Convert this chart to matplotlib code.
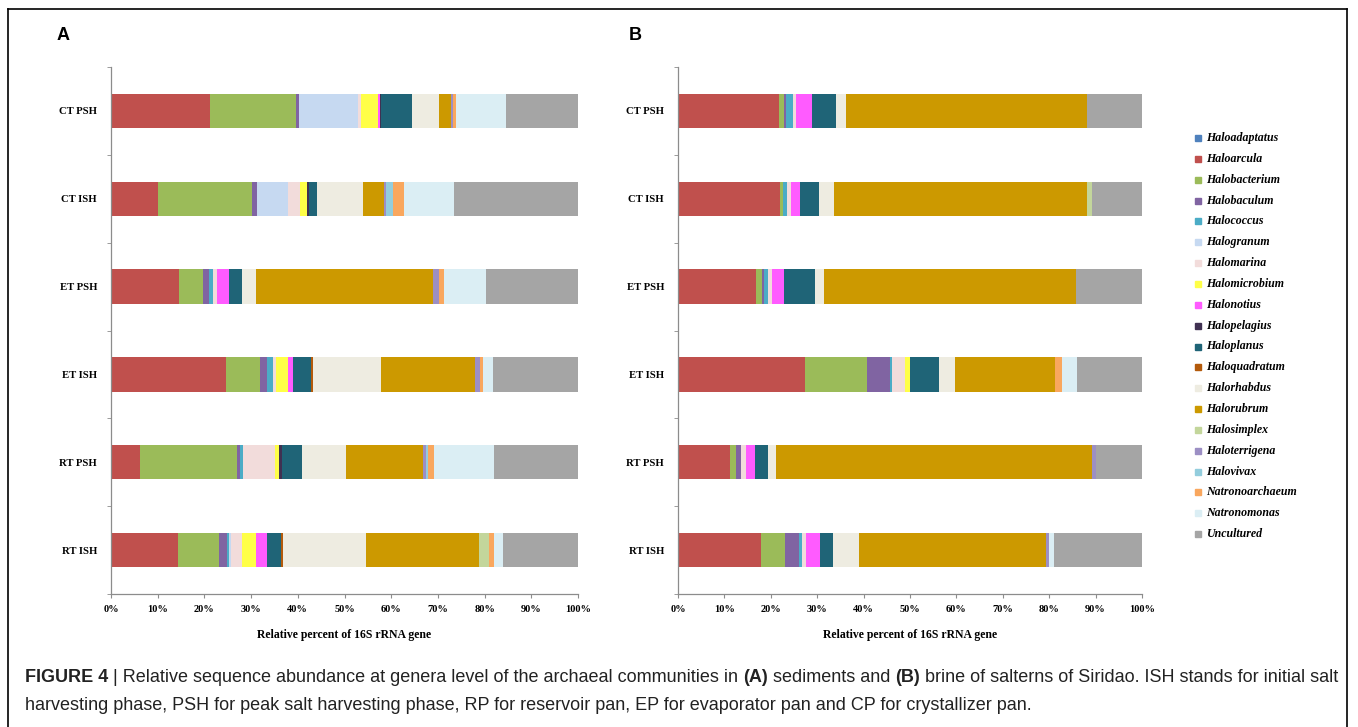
import matplotlib
matplotlib.use("Agg")
import matplotlib.pyplot as plt
from matplotlib.patches import Rectangle
from matplotlib.lines import Line2D

samples = ["CT PSH", "CT ISH", "ET PSH", "ET ISH", "RT PSH", "RT ISH"]

genera = ["Haloadaptatus", "Haloarcula", "Halobacterium", "Halobaculum", "Halococcus",
          "Halogranum", "Halomarina", "Halomicrobium", "Halonotius", "Halopelagius",
          "Haloplanus", "Haloquadratum", "Halorhabdus", "Halorubrum", "Halosimplex",
          "Haloterrigena", "Halovivax", "Natronoarchaeum", "Natronomonas", "Uncultured"]

colors = ["#4F81BD", "#C0504D", "#9BBB59", "#8064A2", "#4BACC6",
          "#C6D9F1", "#F2DCDB", "#FFFF47", "#FF5BFF", "#403152",
          "#1F6477", "#B35A0B", "#EEECE1", "#CC9900", "#C3D69B",
          "#9C8FC4", "#93CDDD", "#F9A75E", "#DBEEF4", "#A5A5A5"]

# percent of reads per genus (same order as genera), one row per sample
sediment = [
    [0, 21.2, 18.5, 0.5, 0, 12.7, 0.7, 3.6, 0.3, 0.4, 6.6, 0, 5.8, 2.6, 0, 0.3, 0, 0.6, 10.7, 15.5],
    [0, 10.0, 20.2, 1.1, 0, 6.6, 2.5, 1.6, 0, 0.3, 1.9, 0, 9.8, 4.4, 0, 0.5, 1.5, 2.4, 10.7, 26.5],
    [0, 14.6, 5.2, 1.2, 0.8, 0, 1.0, 0, 2.4, 0, 2.9, 0, 2.9, 38.0, 0, 1.3, 0, 1.0, 8.9, 19.8],
    [0, 24.6, 7.4, 1.3, 1.3, 0, 0.8, 2.4, 1.2, 0, 3.9, 0.3, 14.7, 20.1, 0, 1.0, 0, 0.7, 2.1, 18.2],
    [0, 6.2, 20.7, 0.7, 0.7, 0, 6.8, 0.8, 0, 0.8, 4.2, 0, 9.5, 16.4, 0, 0.6, 0.5, 1.3, 12.8, 18.0],
    [0, 14.4, 8.7, 1.7, 0.5, 0.4, 2.4, 2.9, 2.3, 0, 3.2, 0.4, 17.8, 24.1, 2.2, 0, 0, 1.0, 2.0, 16.0],
]

brine = [
    [0, 21.8, 1.0, 0.5, 1.5, 0, 0.7, 0, 3.4, 0, 5.2, 0, 2.2, 51.9, 0, 0, 0, 0, 0, 11.8],
    [0, 21.9, 0.7, 0, 0.9, 0, 0.8, 0, 2.0, 0, 4.1, 0, 3.3, 54.5, 1.0, 0, 0, 0, 0, 10.8],
    [0, 16.9, 1.2, 0.5, 0.8, 0, 0.8, 0, 2.6, 0, 6.8, 0, 1.8, 54.4, 0, 0, 0, 0, 0, 14.2],
    [0, 27.4, 13.3, 4.9, 0.5, 0, 2.9, 0.9, 0, 0, 6.3, 0, 3.4, 21.7, 0, 0, 0, 1.5, 3.1, 14.1],
    [0, 11.1, 1.5, 1.0, 0, 0, 1.0, 0, 2.1, 0, 2.7, 0, 1.8, 68.0, 0, 0.9, 0, 0, 0, 9.9],
    [0, 17.8, 5.2, 3.1, 0.7, 0, 0.7, 0, 3.0, 0, 3.0, 0, 5.6, 40.2, 0, 0.7, 0, 0, 1.1, 18.9],
]

caption_1 = [("FIGURE 4", "bold"), (" | Relative sequence abundance at genera level of the "
             "archaeal communities in ", "normal"), ("(A)", "bold"),
             (" sediments and ", "normal"), ("(B)", "bold"),
             (" brine of salterns of Siridao. ISH stands for initial salt", "normal")]
caption_2 = ("harvesting phase, PSH for peak salt harvesting phase, RP for reservoir pan, "
             "EP for evaporator pan and CP for crystallizer pan.")

W, H = 1358, 727
fig = plt.figure(figsize=(W / 100, H / 100), dpi=100)

serif = "Liberation Serif"
sans = ["Liberation Sans", "DejaVu Sans"]


def fx(px):
    return px / W


def fy(py):
    return 1 - py / H


def stacked(ax, data):
    ypos = list(range(len(samples)))
    left = [0.0] * len(samples)
    for g in range(len(genera)):
        vals = [row[g] for row in data]
        ax.barh(ypos, vals, left=left, height=0.39, color=colors[g],
                edgecolor="none", label=genera[g])
        left = [l + v for l, v in zip(left, vals)]
    ax.set_xlim(0, 100)
    ax.set_ylim(len(samples) - 0.5, -0.5)
    ax.set_yticks(ypos)
    ax.set_yticklabels(samples, fontfamily=serif, fontweight="bold", fontsize=7.7)
    ax.tick_params(axis="y", length=0, pad=10)
    ax.set_yticks([i - 0.5 for i in range(len(samples) + 1)], minor=True)
    ax.tick_params(axis="y", which="minor", length=3, color="#8c8c8c")
    ax.set_xticks(range(0, 101, 10))
    ax.set_xticklabels([f"{v}%" for v in range(0, 101, 10)],
                       fontfamily=serif, fontweight="bold", fontsize=7.5)
    ax.tick_params(axis="x", length=3, color="#8c8c8c", pad=5)
    for s in ("top", "right"):
        ax.spines[s].set_visible(False)
    for s in ("left", "bottom"):
        ax.spines[s].set_color("#8c8c8c")
        ax.spines[s].set_linewidth(0.9)
    ax.set_xlabel("Relative percent of 16S rRNA gene", fontfamily=serif,
                  fontweight="bold", fontsize=8.5, labelpad=11)


ax_a = fig.add_axes([fx(111), fy(594), fx(467), (594 - 67) / H])
stacked(ax_a, sediment)
ax_b = fig.add_axes([fx(678), fy(594), fx(464), (594 - 67) / H])
stacked(ax_b, brine)

fig.text(fx(57), fy(35), "A", fontfamily=sans, fontweight="bold", fontsize=13,
         va="center", ha="left")
fig.text(fx(629), fy(35), "B", fontfamily=sans, fontweight="bold", fontsize=13,
         va="center", ha="left")

# genus legend, one square + italic name per entry
for i, (g, c) in enumerate(zip(genera, colors)):
    y = 138 + i * 20.85
    fig.patches.append(Rectangle((fx(1195), fy(y + 3)), fx(6), 6 / H,
                                 transform=fig.transFigure, color=c, zorder=3))
    fig.text(fx(1206), fy(y), g, fontfamily=serif, fontstyle="italic",
             fontweight="bold", fontsize=8.6, va="center", ha="left")

# outer frame
fig.add_artist(Line2D([fx(8), fx(1347)], [fy(9), fy(9)], color="black", lw=1.2))
fig.add_artist(Line2D([fx(8), fx(8)], [fy(9), 0], color="black", lw=1.2))
fig.add_artist(Line2D([fx(1347), fx(1347)], [fy(9), 0], color="black", lw=1.2))

# caption: first line is built from runs so the bold parts sit inline
renderer = fig.canvas.get_renderer()
x = 25
for txt, weight in caption_1:
    t = fig.text(fx(x), fy(682), txt, fontfamily=sans, fontweight=weight,
                 fontsize=13, va="baseline", ha="left", color="#222222")
    x += t.get_window_extent(renderer).width
fig.text(fx(25), fy(710), caption_2, fontfamily=sans, fontsize=13,
         va="baseline", ha="left", color="#222222")

fig.savefig("out.png", dpi=100)
